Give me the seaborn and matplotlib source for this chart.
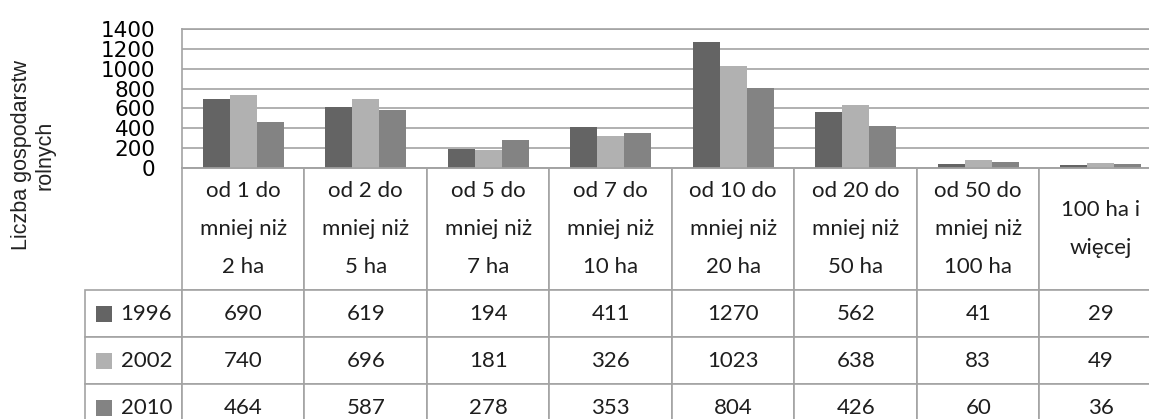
import pandas as pd
import matplotlib.pyplot as plt
import seaborn as sns
from matplotlib.patches import Rectangle
from matplotlib.table import Table

categories = [
    "od 1 do\nmniej niż\n2 ha",
    "od 2 do\nmniej niż\n5 ha",
    "od 5 do\nmniej niż\n7 ha",
    "od 7 do\nmniej niż\n10 ha",
    "od 10 do\nmniej niż\n20 ha",
    "od 20 do\nmniej niż\n50 ha",
    "od 50 do\nmniej niż\n100 ha",
    "100 ha i\nwięcej",
]
years = ["1996", "2002", "2010"]
v1996 = [690, 619, 194, 411, 1270, 562, 41, 29]
v2002 = [740, 696, 181, 326, 1023, 638, 83, 49]
v2010 = [464, 587, 278, 353, 804, 426, 60, 36]
colors = ["#646464", "#b1b1b1", "#838383"]
grid_col = "#a3a3a3"

series = [v1996, v2002, v2010]
df = pd.DataFrame({
    "kategoria": categories * 3,
    "rok": [y for y in years for _ in categories],
    "liczba": v1996 + v2002 + v2010,
})

W, H = 1149, 419
AX_W, AX_H = 980, 139
fig = plt.figure(figsize=(W / 100, H / 100), dpi=100)
# plot area: x 182..1162 px (runs off the right edge), y 29..168 px
ax = fig.add_axes([182 / W, (H - 168) / H, AX_W / W, AX_H / H])

sns.barplot(data=df, x="kategoria", y="liczba", hue="rok", palette=colors,
            order=categories, hue_order=years, width=0.66, saturation=1,
            linewidth=0, legend=False, ax=ax)

ax.set_xlim(-0.5, len(categories) - 0.5)
ax.set_ylim(0, 1400)
ax.set_yticks(range(0, 1401, 200))
ax.set_xticks([])
ax.set_xlabel("")
ax.set_ylabel("")
ax.tick_params(axis="y", length=0, pad=19, labelsize=15.5)
ax.yaxis.grid(True, color=grid_col, lw=1.2)
ax.set_axisbelow(True)
for s in ax.spines.values():
    s.set_color(grid_col)
    s.set_linewidth(1.2)

# data table under the plot (sizes given in axes units so no rescaling)
head_h, row_h = 122 / AX_H, 47 / AX_H
col_w, lab_w = 122.5 / AX_W, 97 / AX_W
tab_h = head_h + 3 * row_h
tab = Table(ax, bbox=[0, -tab_h, len(categories) * col_w, tab_h])
for j, cat in enumerate(categories):
    tab.add_cell(0, j, col_w, head_h, text=cat, loc="center")
for i, vals in enumerate(series):
    tab.add_cell(i + 1, -1, lab_w, row_h, text=years[i], loc="right")
    for j, v in enumerate(vals):
        tab.add_cell(i + 1, j, col_w, row_h, text=str(v), loc="center")
tab.auto_set_font_size(False)
tab.set_fontsize(16)
for (r, c), cell in tab.get_celld().items():
    cell.set_edgecolor(grid_col)
    cell.set_linewidth(1.2)
    txt = cell.get_text()
    txt.set_fontfamily("Lato")
    txt.set_color("#1e1e1e")
    if r == 0:
        txt.set_linespacing(2.1)
ax.add_table(tab)

# legend keys inside the row label cells
for i, col in enumerate(colors):
    yc = 290 + 47 * i + 23.5
    fig.add_artist(Rectangle((96 / W, (H - yc - 8) / H), 16 / W, 16 / H,
                             transform=fig.transFigure, color=col, lw=0))

fig.text(33 / W, (H - 155) / H, "Liczba gospodarstw\nrolnych", rotation=90,
         ha="center", va="center", fontsize=15.5, linespacing=1.15,
         family="Liberation Sans", color="#222222")

fig.savefig("out.png", dpi=100)
